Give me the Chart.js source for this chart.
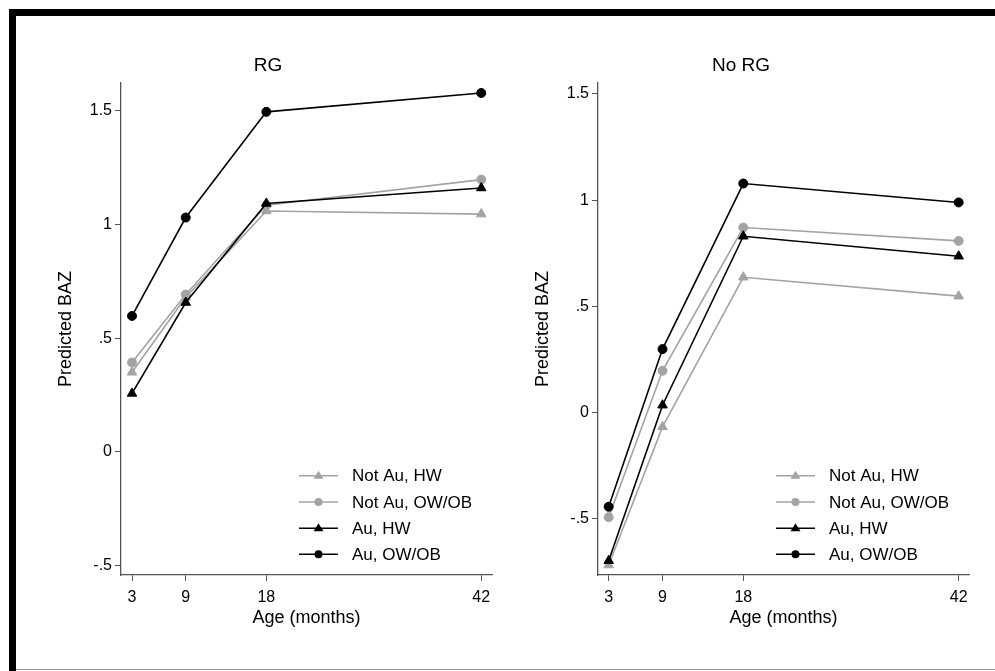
<!DOCTYPE html>
<html>
<head>
<meta charset="utf-8">
<script src="https://cdn.jsdelivr.net/npm/chart.js@4"></script>
<style>
  html, body { margin: 0; padding: 0; background: #fff; }
  body { width: 995px; height: 671px; position: relative; overflow: hidden; }
  #wrapL { position: absolute; left: 0; top: 0; width: 500px; height: 671px; }
  #wrapR { position: absolute; left: 500px; top: 0; width: 495px; height: 671px; }
  .bar { position: absolute; background: #000; }
</style>
</head>
<body>
<div id="wrapL"><canvas id="cL" width="500" height="671"></canvas></div>
<div id="wrapR"><canvas id="cR" width="495" height="671"></canvas></div>
<div class="bar" style="left:9px; top:9px; width:986px; height:7px;"></div>
<div class="bar" style="left:9px; top:9px; width:7px; height:662px;"></div>
<div class="bar" style="left:16px; top:669px; width:979px; height:1px; background:#9a9a9a;"></div>
<script>
// ---- data ----
const months = [3, 9, 18, 42];
const seriesLabels = ['Not Au, HW', 'Not Au, OW/OB', 'Au, HW', 'Au, OW/OB'];
const yTickValues = [-0.5, 0, 0.5, 1, 1.5];
const yTickLabels = ['-.5', '0', '.5', '1', '1.5'];
const panelTitles = ['RG', 'No RG'];

// RG panel
const rgNotAuHW   = [0.350, 0.680, 1.060, 1.046];
const rgNotAuOWOB = [0.393, 0.692, 1.085, 1.198];
const rgAuHW      = [0.257, 0.657, 1.093, 1.161];
const rgAuOWOB    = [0.598, 1.031, 1.496, 1.579];

// No RG panel
const noRgNotAuHW   = [-0.717, -0.067, 0.637, 0.548];
const noRgNotAuOWOB = [-0.492,  0.197, 0.871, 0.808];
const noRgAuHW      = [-0.697,  0.035, 0.830, 0.736];
const noRgAuOWOB    = [-0.443,  0.299, 1.078, 0.989];

const GRAY = '#a3a3a3';
const BLACK = '#000000';
const FONT = '"Liberation Sans", Arial, Helvetica, sans-serif';

function makeDatasets(series) {
  const styles = [
    { color: GRAY,  shape: 'triangle', r: 5.5, order: 3 },
    { color: GRAY,  shape: 'circle',   r: 4.5, order: 2 },
    { color: BLACK, shape: 'triangle', r: 5.5, order: 1 },
    { color: BLACK, shape: 'circle',   r: 4.5, order: 0 }
  ];
  return series.map((vals, i) => ({
    label: seriesLabels[i],
    data: months.map((m, j) => ({ x: m, y: vals[j] })),
    borderColor: styles[i].color,
    backgroundColor: styles[i].color,
    pointBackgroundColor: styles[i].color,
    pointBorderColor: styles[i].color,
    pointStyle: styles[i].shape,
    pointRadius: styles[i].r,
    pointBorderWidth: 1,
    borderWidth: 1.6,
    tension: 0,
    order: styles[i].order
  }));
}

function drawMarker(ctx, shape, x, y, r, color) {
  ctx.fillStyle = color;
  ctx.beginPath();
  if (shape === 'circle') {
    ctx.arc(x, y, r, 0, Math.PI * 2);
  } else {
    const h = r * 1.5;
    const half = r * Math.sqrt(3) / 2 * 1.0;
    ctx.moveTo(x, y - r);
    ctx.lineTo(x - half * 1.15, y + r / 2 + 0.5);
    ctx.lineTo(x + half * 1.15, y + r / 2 + 0.5);
    ctx.closePath();
  }
  ctx.fill();
}

const decor = {
  id: 'decor',
  afterDraw(chart, args, opts) {
    const ctx = chart.ctx;
    const ca = chart.chartArea;
    ctx.save();
    ctx.fillStyle = '#000';
    // panel title
    ctx.font = '19px ' + FONT;
    ctx.textAlign = 'center';
    ctx.textBaseline = 'alphabetic';
    ctx.fillText(opts.title, opts.titleX, opts.titleY);
    // x title
    ctx.font = '18px ' + FONT;
    ctx.textBaseline = 'middle';
    ctx.fillText('Age (months)', (ca.left + ca.right) / 2, 618);
    // y title
    ctx.save();
    ctx.translate(ca.left - 54.5, (ca.top + ca.bottom) / 2);
    ctx.rotate(-Math.PI / 2);
    ctx.textBaseline = 'middle';
    ctx.fillText('Predicted BAZ', 0, 0);
    ctx.restore();
    // legend
    const x0 = ca.right - 193;
    const rows = [475.7, 502, 528.2, 554.3];
    chart.data.datasets.forEach((ds, i) => {
      const y = rows[i];
      ctx.strokeStyle = ds.borderColor;
      ctx.lineWidth = 1.6;
      ctx.beginPath();
      ctx.moveTo(x0, y);
      ctx.lineTo(x0 + 39, y);
      ctx.stroke();
      drawMarker(ctx, ds.pointStyle, x0 + 19.5, y, ds.pointStyle === 'circle' ? 4 : 5, ds.borderColor);
      ctx.fillStyle = '#000';
      ctx.font = '17px ' + FONT;
      ctx.textAlign = 'left';
      ctx.textBaseline = 'middle';
      ctx.fillText(ds.label, x0 + 53, y + 1);
    });
    ctx.restore();
  }
};

function makeChart(canvasId, series, xMin, xMax, yMin, yMax, padding, title, titleX) {
  const axisColor = '#555';
  return new Chart(document.getElementById(canvasId), {
    type: 'line',
    data: { datasets: makeDatasets(series) },
    options: {
      responsive: false,
      animation: false,
      events: [],
      layout: { padding: padding },
      plugins: {
        legend: { display: false },
        tooltip: { enabled: false },
        title: { display: false },
        decor: { title: title, titleX: titleX, titleY: 71 }
      },
      scales: {
        x: {
          type: 'linear',
          min: xMin, max: xMax,
          offset: false,
          afterFit(scale) { scale.height = 96; },
          afterBuildTicks(scale) { scale.ticks = months.map(v => ({ value: v })); },
          ticks: {
            autoSkip: false, maxRotation: 0, padding: 7,
            color: '#000', font: { family: FONT, size: 16 },
            callback: v => String(v)
          },
          grid: { drawOnChartArea: false, drawTicks: true, tickLength: 6, color: axisColor, lineWidth: 1 },
          border: { display: true, color: axisColor, width: 1.3 }
        },
        y: {
          type: 'linear',
          min: yMin, max: yMax,
          afterFit(scale) { scale.width = 80; },
          afterBuildTicks(scale) { scale.ticks = yTickValues.map(v => ({ value: v })); },
          ticks: {
            autoSkip: false, padding: 3,
            color: '#000', font: { family: FONT, size: 16 },
            callback: v => { const k = yTickValues.findIndex(t => Math.abs(t - v) < 1e-9); return k >= 0 ? yTickLabels[k] : ''; }
          },
          grid: { drawOnChartArea: false, drawTicks: true, tickLength: 6, color: axisColor, lineWidth: 1 },
          border: { display: true, color: axisColor, width: 1.3 }
        }
      }
    },
    plugins: [decor]
  });
}

makeChart('cL', [rgNotAuHW, rgNotAuOWOB, rgAuHW, rgAuOWOB],
  1.77, 43.2, -0.542, 1.623, { left: 41, right: 8, top: 83, bottom: 0 }, panelTitles[0], 268);
makeChart('cR', [noRgNotAuHW, noRgNotAuOWOB, noRgAuHW, noRgAuOWOB],
  1.81, 43.15, -0.764, 1.551, { left: 18, right: 26, top: 83, bottom: 0 }, panelTitles[1], 241);
</script>
</body>
</html>
